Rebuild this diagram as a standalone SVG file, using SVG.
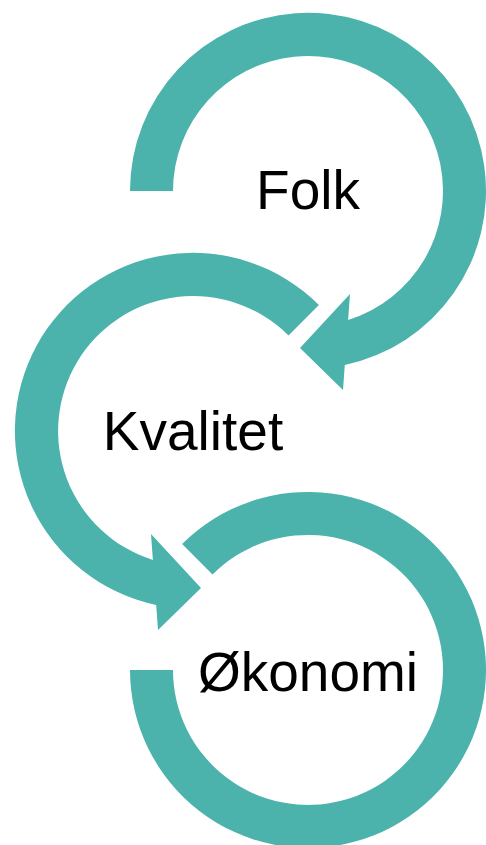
<svg xmlns="http://www.w3.org/2000/svg" width="486" height="845" viewBox="0 0 486 845">
  <style>
    .arrow { fill: #4BB3AC; stroke: none; }
    .label { font-family: "Liberation Sans", Arial, sans-serif; font-size: 55px; fill: #000000; text-anchor: middle; }
  </style>
  <rect width="486" height="845" fill="#FFFFFF"/>
  <g id="connectors"/>
  <g id="node-folk">
    <path class="arrow" d="M130,191 A178,178 0 1 1 344.8,365 L343,390 L300,348 L350,294 L348.1,319.9 A135,135 0 1 0 173,191 Z"/>
    <text class="label" x="308" y="209">Folk</text>
  </g>
  <g id="node-kvalitet">
    <path class="arrow" d="M318.9,305.1 A178,178 0 1 0 156.2,605 L158,630 L201,588 L151,534 L152.9,559.9 A135,135 0 1 1 288.5,335.5 Z"/>
    <text class="label" x="193" y="450">Kvalitet</text>
  </g>
  <g id="node-okonomi">
    <path class="arrow" d="M130,670 A178,178 0 1 0 182.1,544.1 L212.5,574.5 A135,135 0 1 1 173,670 Z"/>
    <text class="label" x="308" y="691">Økonomi</text>
  </g>
</svg>
